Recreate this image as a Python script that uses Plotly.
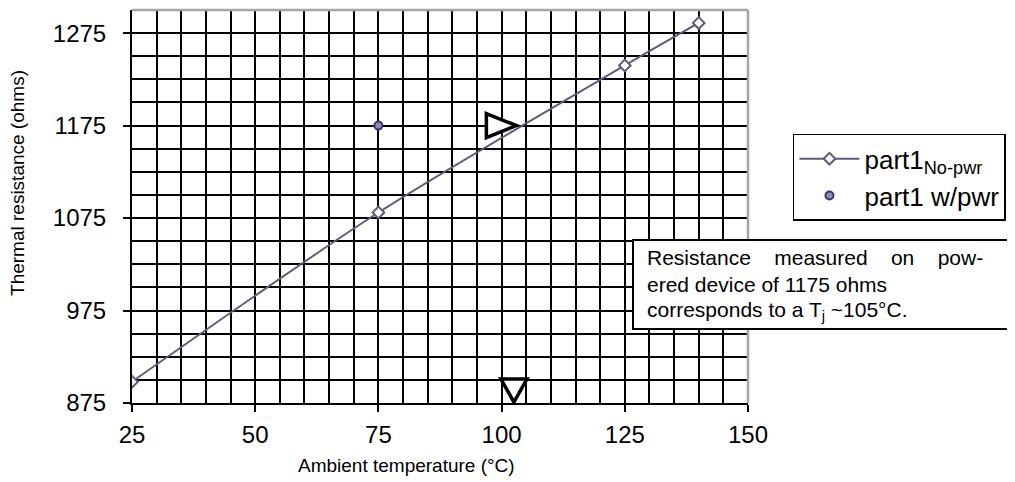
import plotly.graph_objects as go

# Data
temp_nopwr = [25, 75, 125, 140]
res_nopwr = [898, 1081, 1240, 1286]
temp_pwr = [75]
res_pwr = [1175]

# indicator triangles (tip positions)
tri_right_x = [103]
tri_right_y = [1175]
tri_down_x = [102.5]
tri_down_y = [876]

x_ticks = [25, 50, 75, 100, 125, 150]
y_ticks = [875, 975, 1075, 1175, 1275]

FONT = "Liberation Sans, Arial, sans-serif"
LINE_COLOR = "#625a7c"

fig = go.Figure()
fig.add_trace(go.Scatter(
    x=temp_nopwr, y=res_nopwr, mode="lines+markers",
    name="part1<sub>No-pwr</sub>",
    line=dict(color=LINE_COLOR, width=2, shape="spline", smoothing=0.8),
    marker=dict(symbol="diamond", size=9, color="white",
                line=dict(color=LINE_COLOR, width=2)),
))
fig.add_trace(go.Scatter(
    x=temp_pwr, y=res_pwr, mode="markers",
    name="part1 w/pwr",
    marker=dict(symbol="circle", size=8, color="#8c8cbc",
                line=dict(color="#3a3a6a", width=2)),
))

shapes = []
for tx, ty in zip(tri_right_x, tri_right_y):
    shapes.append(dict(type="path", xref="x", yref="y",
                       xsizemode="pixel", ysizemode="pixel",
                       xanchor=tx, yanchor=ty,
                       path="M -30,12 L 0,0 L -30,-12 Z",
                       fillcolor="white", line=dict(color="black", width=3.5),
                       layer="above"))
for tx, ty in zip(tri_down_x, tri_down_y):
    shapes.append(dict(type="path", xref="x", yref="y",
                       xsizemode="pixel", ysizemode="pixel",
                       xanchor=tx, yanchor=ty,
                       path="M -13,23 L 13,23 L 0,0 Z",
                       fillcolor="white", line=dict(color="black", width=3.5),
                       layer="above"))
# gray top/right plot border
shapes.append(dict(type="line", xref="paper", yref="paper", x0=0, x1=1, y0=1, y1=1,
                   line=dict(color="#a6a6a6", width=2.5), layer="above"))
shapes.append(dict(type="line", xref="paper", yref="paper", x0=1, x1=1, y0=0, y1=1,
                   line=dict(color="#a6a6a6", width=2.5), layer="above"))
# note box
shapes.append(dict(type="rect", xref="paper", yref="paper",
                   x0=0.8133, x1=1.4253, y0=0.1883, y1=0.4148,
                   fillcolor="white", line=dict(color="black", width=2), layer="above"))

sp = "\u00a0"
note_lines = [
    "Resistance" + sp * 4 + "measured" + sp * 4 + "on" + sp * 4 + "pow-",
    "ered device of 1175 ohms",
    "corresponds to a T<sub>j</sub> ~105°C.",
]
note_y = [0.3715, 0.3003, 0.2341]

annotations = []
for txt, yy in zip(note_lines, note_y):
    annotations.append(dict(text=txt, xref="paper", yref="paper", x=0.8328, y=yy,
                            xanchor="left", yanchor="middle", align="left",
                            showarrow=False,
                            font=dict(family=FONT, size=21, color="black")))
annotations += [
    dict(text="Ambient temperature (°C)", xref="paper", yref="paper",
         x=0.446, y=-0.160, xanchor="center", yanchor="middle", showarrow=False,
         font=dict(family=FONT, size=19, color="black")),
    dict(text="Thermal resistance (ohms)", xref="paper", yref="paper",
         x=-0.185, y=0.56, xanchor="center", yanchor="middle", showarrow=False,
         textangle=-90, font=dict(family=FONT, size=19, color="black")),
]

fig.update_layout(
    width=1007, height=474,
    margin=dict(l=124, r=267, t=2, b=79, pad=0),
    paper_bgcolor="white", plot_bgcolor="white",
    font=dict(family=FONT, size=20, color="black"),
    shapes=shapes, annotations=annotations,
    showlegend=True,
    legend=dict(x=1.073, y=0.685, xanchor="left", yanchor="top",
                bordercolor="black", borderwidth=1.5, bgcolor="white",
                font=dict(family=FONT, size=26, color="black"),
                itemwidth=60, tracegroupgap=0),
)
fig.update_xaxes(
    range=[25, 150], tickmode="array", tickvals=x_ticks,
    ticks="outside", ticklen=7, tickwidth=2, tickcolor="black",
    showline=True, linecolor="black", linewidth=2,
    showgrid=True, gridcolor="black", gridwidth=2, zeroline=False,
    minor=dict(tick0=25, dtick=5, showgrid=True, gridcolor="black", gridwidth=2, ticks=""),
    tickfont=dict(family=FONT, size=24, color="black"),
    ticklabelstandoff=2,
)
fig.update_yaxes(
    range=[875, 1300], tickmode="array", tickvals=y_ticks,
    ticks="outside", ticklen=7, tickwidth=2, tickcolor="black",
    showline=True, linecolor="black", linewidth=2,
    showgrid=True, gridcolor="black", gridwidth=2, zeroline=False,
    minor=dict(tick0=875, dtick=25, showgrid=True, gridcolor="black", gridwidth=2, ticks=""),
    tickfont=dict(family=FONT, size=24, color="black"),
    ticklabelstandoff=12,
)

fig.write_html("out.html")
